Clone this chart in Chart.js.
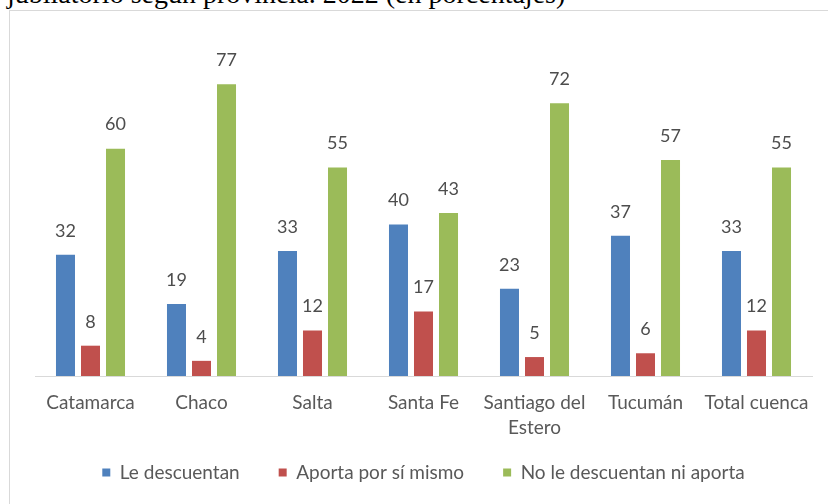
<!DOCTYPE html>
<html>
<head>
<meta charset="utf-8">
<script src="https://cdn.jsdelivr.net/npm/chart.js@4"></script>
<style>
  html, body { margin: 0; padding: 0; background: #fff; overflow: hidden; width: 828px; height: 504px; }
  #titulo { position: absolute; left: 7px; top: -20px; font-family: "Liberation Serif", serif; font-size: 28px; line-height: 28px; color: #000; white-space: nowrap; }
  #marco { position: absolute; left: 9px; top: 10px; width: 900px; height: 600px; border: 1px solid #d9d9d9; box-sizing: border-box; }
  #caja { position: absolute; left: 0; top: 0; width: 828px; height: 504px; }
</style>
</head>
<body>
<div id="titulo">jubilatorio según provincia. 2022 (en porcentajes)</div>
<div id="marco"></div>
<div id="caja"><canvas id="grafico"></canvas></div>
<script>
const provincias = ['Catamarca', 'Chaco', 'Salta', 'Santa Fe', ['Santiago del', 'Estero'], 'Tucumán', 'Total cuenca'];
const leDescuentan = [32, 19, 33, 40, 23, 37, 33];
const aportaPorSiMismo = [8, 4, 12, 17, 5, 6, 12];
const noLeDescuentan = [60, 77, 55, 43, 72, 57, 55];

// etiquetas de valor arriba de cada barra
const valores = {
    id: 'valores',
    afterDatasetsDraw(chart) {
        const ctx = chart.ctx;
        ctx.save();
        ctx.font = '18px Lato';
        ctx.fillStyle = '#4d4d4d';
        ctx.textAlign = 'center';
        ctx.textBaseline = 'middle';
        chart.data.datasets.forEach((ds, i) => {
            chart.getDatasetMeta(i).data.forEach((bar, j) => {
                ctx.fillText(ds.data[j], bar.x, bar.y - 24);
            });
        });
        ctx.restore();
    }
};

const ctx = document.getElementById('grafico').getContext('2d');
new Chart(ctx, {
    type: 'bar',
    data: {
        labels: provincias,
        datasets: [
            { label: 'Le descuentan', data: leDescuentan, backgroundColor: '#4f81bd' },
            { label: 'Aporta por sí mismo', data: aportaPorSiMismo, backgroundColor: '#c0504d' },
            { label: 'No le descuentan ni aporta', data: noLeDescuentan, backgroundColor: '#9bbb59' }
        ]
    },
    options: {
        responsive: true,
        maintainAspectRatio: false,
        animation: false,
        layout: { padding: { left: 35, right: 16, top: 35, bottom: 12 } },
        datasets: { bar: { categoryPercentage: 0.676, barPercentage: 0.76 } },
        scales: {
            x: {
                grid: { display: false, drawTicks: false },
                border: { display: true, color: '#d9d9d9', width: 1 },
                ticks: { color: '#595959', padding: 14, font: { family: 'Lato', size: 19, lineHeight: 1.316 }, maxRotation: 0, autoSkip: false },
                afterFit(scale) {
                    // la leyenda queda pegada a las etiquetas, sin recortar "Estero"
                    scale.height = 48;
                    scale._computeLabelArea = () => null;
                }
            },
            y: {
                display: false,
                min: 0,
                max: 90
            }
        },
        plugins: {
            legend: {
                position: 'bottom',
                labels: { boxWidth: 8, boxHeight: 8, padding: 39, color: '#595959', font: { family: 'Lato', size: 19 } }
            },
            tooltip: { enabled: false }
        }
    },
    plugins: [valores]
});
</script>
</body>
</html>
